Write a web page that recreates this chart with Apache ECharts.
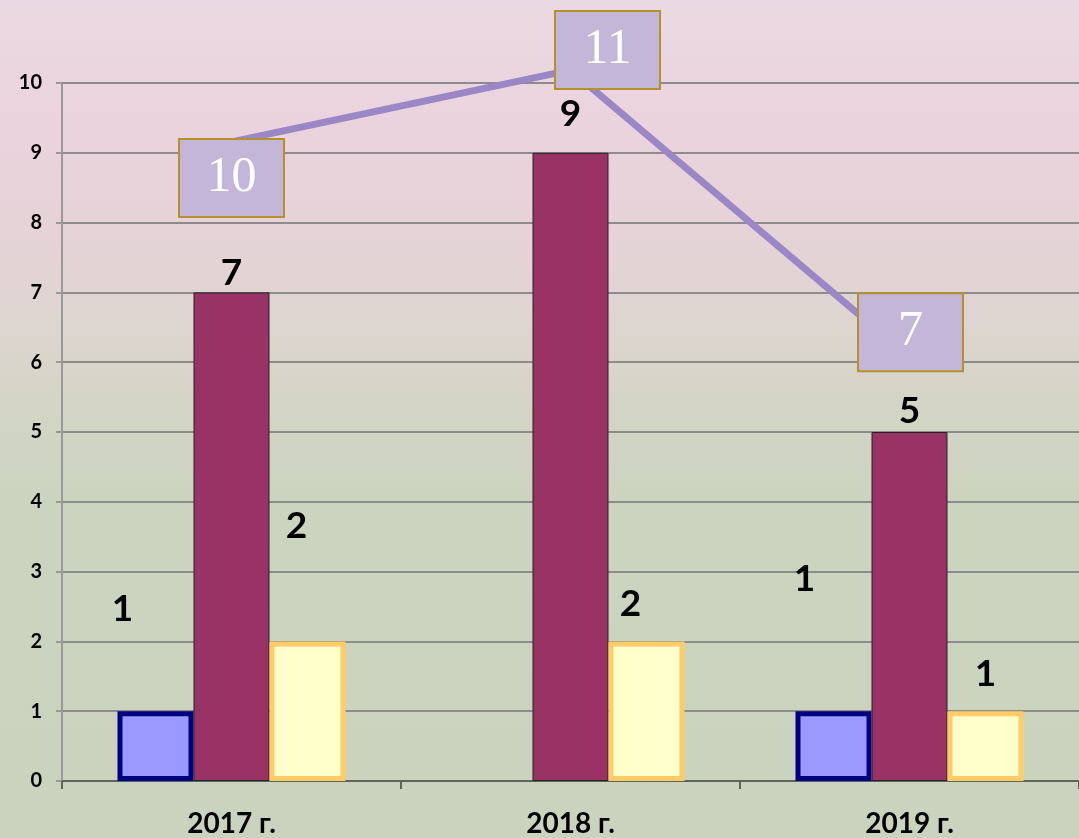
<!DOCTYPE html>
<html lang="ru">
<head>
    <meta charset="UTF-8">
    <script src="https://cdn.jsdelivr.net/npm/echarts@6/dist/echarts.min.js"></script>
    <style>
        html, body { margin: 0; padding: 0; }
    </style>
</head>
<body>
    <div id="main" style="width: 1079px; height: 838px;"></div>
    <script>
        var years = ['2017 г.', '2018 г.', '2019 г.'];
        var blueValues = [1, null, 1];
        var purpleValues = [7, 9, 5];
        var yellowValues = [2, 2, 1];
        var lineValues = [10, 11, 7];

        // label nudges, as placed in the original
        var blueLabelShift = [[-33, -79], [0, 0], [-29, -109]];
        var purpleLabelShift = [[0, 4], [0, -15], [0, 3]];
        var yellowLabelShift = [[-11, -92], [-16, -14], [0, -14]];
        var lineLabelShift = [[0, 36], [37, -20], [1, -25]];

        var barLabel = {
            show: true,
            position: 'top',
            color: '#000',
            fontFamily: 'Lato',
            fontWeight: 'bold',
            fontSize: 37
        };

        function withShift(values, shifts) {
            return values.map(function (v, i) {
                return {
                    value: v,
                    label: { offset: shifts[i] }
                };
            });
        }

        var chart = echarts.init(document.getElementById('main'));

        chart.setOption({
            animation: false,
            backgroundColor: {
                type: 'linear', x: 0, y: 0, x2: 0, y2: 1,
                colorStops: [
                    { offset: 0, color: '#EAD9E2' },
                    { offset: 0.15, color: '#EBD3DD' },
                    { offset: 0.3, color: '#E4D3D6' },
                    { offset: 0.4, color: '#DCD5CE' },
                    { offset: 0.5, color: '#D2D5C4' },
                    { offset: 0.6, color: '#CBD4BF' },
                    { offset: 1, color: '#CAD3BE' }
                ]
            },
            grid: { left: 62, right: -3, top: 83, bottom: 55 },
            xAxis: {
                type: 'category',
                data: years,
                axisLine: { lineStyle: { color: '#5f6358', width: 2 } },
                axisTick: { show: true, length: 8, lineStyle: { color: '#5f6358', width: 2 } },
                axisLabel: {
                    color: '#000',
                    fontFamily: 'Lato',
                    fontWeight: 'bold',
                    fontSize: 28,
                    margin: 29
                }
            },
            yAxis: [{
                type: 'value',
                min: 0,
                max: 10,
                interval: 1,
                axisLine: { show: true, lineStyle: { color: '#999', width: 2 } },
                axisTick: { show: true, length: 6, lineStyle: { color: '#999', width: 2 } },
                splitLine: { lineStyle: { color: '#8c8c8c', width: 2 } },
                axisLabel: {
                    color: '#000',
                    fontFamily: 'Lato',
                    fontWeight: 'bold',
                    fontSize: 20,
                    margin: 20
                }
            }, {
                type: 'value',
                min: 1.1,
                max: 10.82,
                show: false,
                splitLine: { show: false }
            }],
            series: [{
                type: 'bar',
                data: withShift(blueValues, blueLabelShift),
                barWidth: 76,
                barGap: '0%',
                itemStyle: { color: '#9999FF', borderColor: '#000080', borderWidth: 5 },
                label: barLabel
            }, {
                type: 'bar',
                data: withShift(purpleValues, purpleLabelShift),
                barWidth: 76,
                barGap: '0%',
                itemStyle: { color: '#993366', borderColor: '#222', borderWidth: 1 },
                label: barLabel
            }, {
                type: 'bar',
                data: withShift(yellowValues, yellowLabelShift),
                barWidth: 76,
                barGap: '0%',
                itemStyle: { color: '#FFFFCC', borderColor: '#FFCC66', borderWidth: 5 },
                label: barLabel
            }, {
                type: 'line',
                yAxisIndex: 1,
                data: withShift(lineValues, lineLabelShift),
                clip: false,
                symbol: 'circle',
                symbolSize: 2,
                itemStyle: { color: '#9B87C6' },
                lineStyle: { color: '#9B87C6', width: 7 },
                z: 5,
                label: {
                    show: true,
                    position: 'inside',
                    align: 'center',
                    verticalAlign: 'middle',
                    width: 103,
                    height: 76,
                    lineHeight: 76,
                    backgroundColor: '#C4B6D8',
                    borderColor: '#B8902A',
                    borderWidth: 2,
                    color: '#fff',
                    fontFamily: 'Liberation Serif',
                    fontSize: 50
                }
            }]
        });
    </script>
</body>
</html>
